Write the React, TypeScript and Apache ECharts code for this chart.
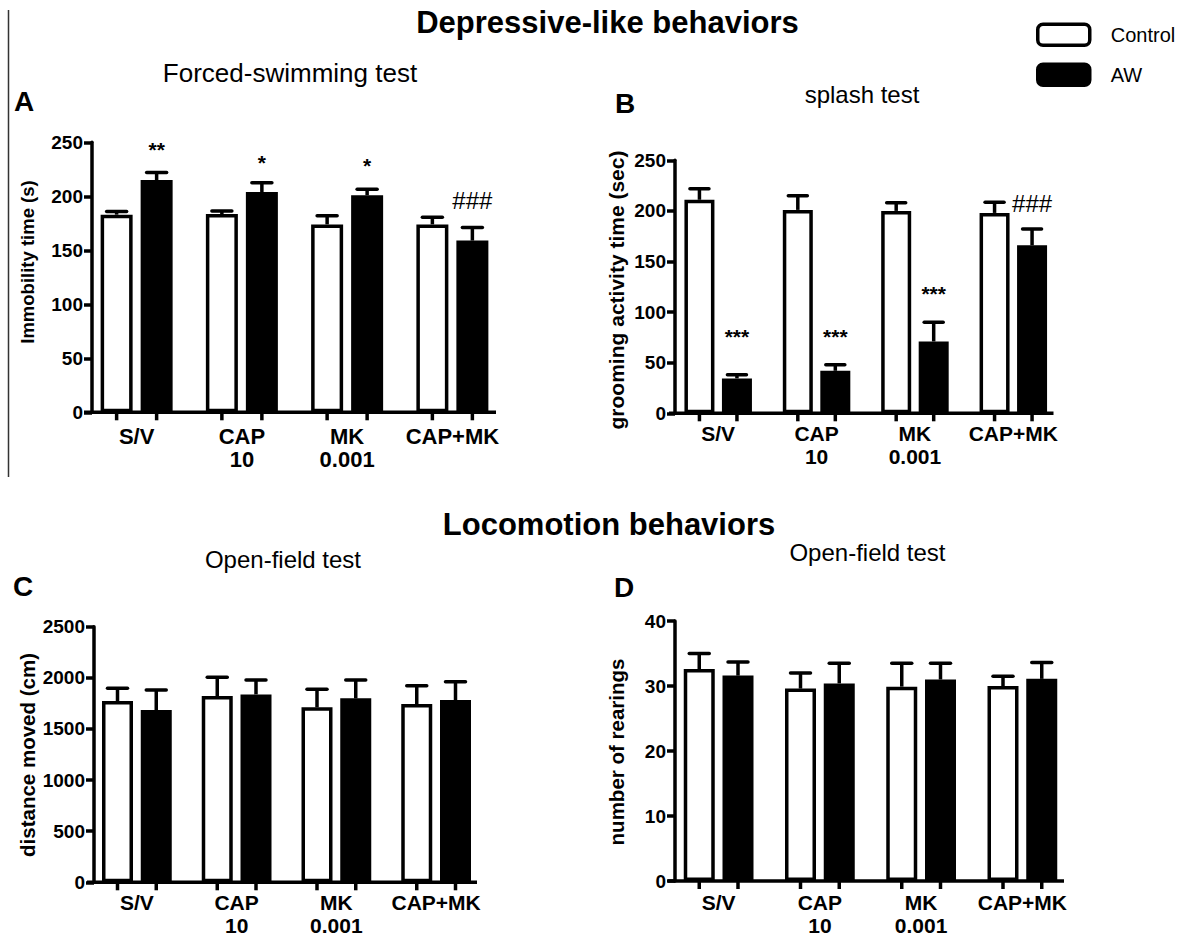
import React, { useEffect, useRef } from 'react';
import * as echarts from 'echarts';

const FONT = '"Liberation Sans", Arial, Helvetica, sans-serif';

const categories = ['S/V', 'CAP\n10', 'MK\n0.001', 'CAP+MK'];
const seriesNames = ['Control', 'AW'];

// A: Forced-swimming test (Immobility time, s)
const fstControl = [183, 183.5, 174, 174];
const fstControlErr = [3, 3, 8, 6.5];
const fstAW = [215, 204, 201, 159];
const fstAWErr = [7, 8.5, 5.5, 12];
const fstMarks = ['**', '*', '*', '###'];
const fstMarkY = [248, 236, 233, 196];

// B: splash test (grooming activity time, sec)
const splashControl = [211, 201, 200, 198];
const splashControlErr = [11, 14, 8, 10.5];
const splashAW = [34.5, 42, 71, 166];
const splashAWErr = [3.5, 6, 19, 16];
const splashMarks = ['***', '***', '***', '###'];
const splashMarkY = [80.5, 80.5, 123.5, 207];

// C: Open-field test (distance moved, cm)
const distControl = [1773, 1822, 1711, 1744];
const distControlErr = [124, 183, 176, 179];
const distAW = [1685, 1838, 1799, 1783];
const distAWErr = [196, 140, 179, 179];

// D: Open-field test (number of rearings)
const rearControl = [32.6, 29.6, 29.9, 30.0];
const rearControlErr = [2.4, 2.4, 3.6, 1.5];
const rearAW = [31.6, 30.4, 31.0, 31.1];
const rearAWErr = [2.1, 3.1, 2.5, 2.5];

const yRangeA = { min: 0, max: 250, interval: 50 };
const yRangeB = { min: 0, max: 250, interval: 50 };
const yRangeC = { min: 0, max: 2500, interval: 500 };
const yRangeD = { min: 0, max: 40, interval: 10 };

const LW = 3.5;

type Panel = {
  grid: any;
  yOffset: number;
  barWidth: number;
  labelMargin: number;
  catFont: number;
  range: any;
  control: number[];
  controlErr: number[];
  aw: number[];
  awErr: number[];
  marks?: string[];
  markY?: number[];
  capHalf: number;
};

const panels: Panel[] = [
  {
    grid: { left: 84, top: 142.3, width: 421, height: 270 },
    yOffset: -8, barWidth: 32, labelMargin: 13, catFont: 22, range: yRangeA,
    control: fstControl, controlErr: fstControlErr, aw: fstAW, awErr: fstAWErr,
    marks: fstMarks, markY: fstMarkY, capHalf: 10,
  },
  {
    grid: { left: 669, top: 160.3, width: 393.5, height: 253 },
    yOffset: -6, barWidth: 30, labelMargin: 9, catFont: 21, range: yRangeB,
    control: splashControl, controlErr: splashControlErr, aw: splashAW, awErr: splashAWErr,
    marks: splashMarks, markY: splashMarkY, capHalf: 9.5,
  },
  {
    grid: { left: 87, top: 626.7, width: 399, height: 255.6 },
    yOffset: -7, barWidth: 31, labelMargin: 9, catFont: 21, range: yRangeC,
    control: distControl, controlErr: distControlErr, aw: distAW, awErr: distAWErr, capHalf: 10,
  },
  {
    grid: { left: 668, top: 621, width: 405, height: 260 },
    yOffset: -7, barWidth: 31, labelMargin: 10, catFont: 21, range: yRangeD,
    control: rearControl, controlErr: rearControlErr, aw: rearAW, awErr: rearAWErr, capHalf: 10,
  },
];

function buildOption() {
  const grids: any[] = [];
  const xAxes: any[] = [];
  const yAxes: any[] = [];
  const series: any[] = [];

  panels.forEach((p, i) => {
    grids.push({ ...p.grid, containLabel: false });
    xAxes.push({
      gridIndex: i,
      type: 'category',
      data: categories,
      axisLine: { show: false },
      axisTick: { show: false },
      axisLabel: {
        color: '#000', fontSize: p.catFont, fontWeight: 'bold', fontFamily: FONT,
        margin: p.labelMargin, lineHeight: 23, interval: 0,
      },
      splitLine: { show: false },
    });
    yAxes.push({
      gridIndex: i,
      type: 'value',
      min: p.range.min,
      max: p.range.max,
      interval: p.range.interval,
      offset: p.yOffset,
      axisLine: { show: true, lineStyle: { color: '#000', width: LW } },
      axisTick: { show: true, length: 8, lineStyle: { color: '#000', width: LW } },
      axisLabel: {
        color: '#000', fontSize: 19, fontWeight: 'bold', fontFamily: FONT, margin: 9,
        formatter: (v: number) => String(v),
      },
      splitLine: { show: false },
    });

    const half = (p.barWidth * 1.25) / 2;
    const lastCat = categories.length - 1;

    series.push({
      name: seriesNames[0], type: 'bar', xAxisIndex: i, yAxisIndex: i,
      data: p.control, barWidth: p.barWidth, barGap: '25%',
      itemStyle: { color: '#fff', borderColor: '#000', borderWidth: LW },
      z: 2,
    });
    series.push({
      name: seriesNames[1], type: 'bar', xAxisIndex: i, yAxisIndex: i,
      data: p.aw, barWidth: p.barWidth, barGap: '25%',
      itemStyle: { color: '#000', borderColor: '#000', borderWidth: LW },
      z: 2,
    });

    const errData: number[][] = [];
    p.control.forEach((v, k) => errData.push([k, v, p.controlErr[k], -1]));
    p.aw.forEach((v, k) => errData.push([k, v, p.awErr[k], 1]));

    series.push({
      name: 'err' + i, type: 'custom', xAxisIndex: i, yAxisIndex: i,
      data: errData, encode: { x: 0, y: 1 }, clip: false, z: 4, silent: true,
      renderItem: (params: any, api: any) => {
        const cat = api.value(0);
        const mean = api.value(1);
        const err = api.value(2);
        const side = api.value(3);
        const base = api.coord([cat, mean]);
        const top = api.coord([cat, mean + err]);
        const zero = api.coord([cat, 0]);
        const x = base[0] + side * half;
        const children: any[] = [
          { type: 'line', shape: { x1: x, y1: base[1], x2: x, y2: top[1] }, style: { stroke: '#000', lineWidth: LW } },
          { type: 'line', shape: { x1: x - p.capHalf, y1: top[1], x2: x + p.capHalf, y2: top[1] }, style: { stroke: '#000', lineWidth: LW, lineCap: 'round' } },
          { type: 'line', shape: { x1: x, y1: zero[1], x2: x, y2: zero[1] + 8 }, style: { stroke: '#000', lineWidth: LW } },
        ];
        if (params.dataIndex === 0) {
          const band = api.size([1, 0])[0];
          const first = api.coord([0, 0]);
          const last = api.coord([lastCat, 0]);
          children.push({
            type: 'line',
            shape: { x1: first[0] - band / 2, y1: first[1], x2: last[0] + band / 2 - 9, y2: first[1] },
            style: { stroke: '#000', lineWidth: LW },
          });
        }
        return { type: 'group', children };
      },
    });

    if (p.marks && p.markY) {
      const marks = p.marks;
      const markData = p.markY.map((y, k) => [k, y]);
      series.push({
        name: 'mark' + i, type: 'custom', xAxisIndex: i, yAxisIndex: i,
        data: markData, encode: { x: 0, y: 1 }, clip: false, z: 5, silent: true,
        renderItem: (params: any, api: any) => {
          const pt = api.coord([api.value(0), api.value(1)]);
          const t = marks[params.dataIndex];
          const star = t.indexOf('*') >= 0;
          return {
            type: 'text',
            x: pt[0] + half,
            y: pt[1] + (star ? 5 : 0),
            style: {
              text: t,
              fill: '#000',
              fontSize: star ? 21 : 24,
              fontWeight: star ? 'bold' : 'normal',
              fontFamily: FONT,
              align: 'center',
              verticalAlign: 'middle',
            },
          };
        },
      });
    }
  });

  const txt = (text: string, x: number, y: number, size: number, bold: boolean, rotation = 0) => ({
    type: 'text',
    x, y, rotation,
    style: {
      text, fill: '#000', fontSize: size, fontWeight: bold ? 'bold' : 'normal', fontFamily: FONT,
      align: 'center', verticalAlign: 'middle', textAlign: 'center', textVerticalAlign: 'middle',
    },
  });

  const graphic: any[] = [
    { type: 'line', shape: { x1: 8.5, y1: 10, x2: 8.5, y2: 477 }, style: { stroke: '#333', lineWidth: 1.5 } },
    txt('Depressive-like behaviors', 607.5, 22.5, 31, true),
    txt('Locomotion behaviors', 609, 524, 31, true),
    txt('Forced-swimming test', 290, 73, 26, false),
    txt('splash test', 862, 94, 24, false),
    txt('Open-field test', 283, 559.5, 24, false),
    txt('Open-field test', 867.5, 552.5, 24, false),
    txt('A', 24, 101.5, 28, true),
    txt('B', 625, 103.5, 28, true),
    txt('C', 23, 586, 28, true),
    txt('D', 624, 587, 28, true),
    txt('Immobility time (s)', 27, 262, 18.5, true, Math.PI / 2),
    txt('grooming activity time (sec)', 616.5, 290, 21, true, Math.PI / 2),
    txt('distance moved (cm)', 27, 755, 20.5, true, Math.PI / 2),
    txt('number of rearings', 616.5, 752, 20.5, true, Math.PI / 2),
  ];

  return {
    animation: false,
    backgroundColor: '#fff',
    grid: grids,
    xAxis: xAxes,
    yAxis: yAxes,
    series,
    legend: {
      orient: 'vertical',
      left: 1036,
      top: 22.5,
      padding: 0,
      itemWidth: 52,
      itemHeight: 21,
      itemGap: 15.5,
      icon: 'roundRect',
      selectedMode: false,
      textStyle: { fontSize: 20, fontFamily: FONT, color: '#000', padding: [0, 0, 0, 16] },
      data: [
        { name: 'Control', itemStyle: { color: '#fff', borderColor: '#000', borderWidth: LW } },
        { name: 'AW', itemStyle: { color: '#000', borderColor: '#000', borderWidth: LW } },
      ],
    },
    graphic,
  };
}

export default function App() {
  const ref = useRef<HTMLDivElement>(null);
  useEffect(() => {
    document.body.style.margin = '0';
    if (!ref.current) return;
    const chart = echarts.init(ref.current, undefined, { renderer: 'svg' });
    chart.setOption(buildOption() as any);
    return () => chart.dispose();
  }, []);
  return <div ref={ref} style={{ width: 1183, height: 938 }} />;
}
